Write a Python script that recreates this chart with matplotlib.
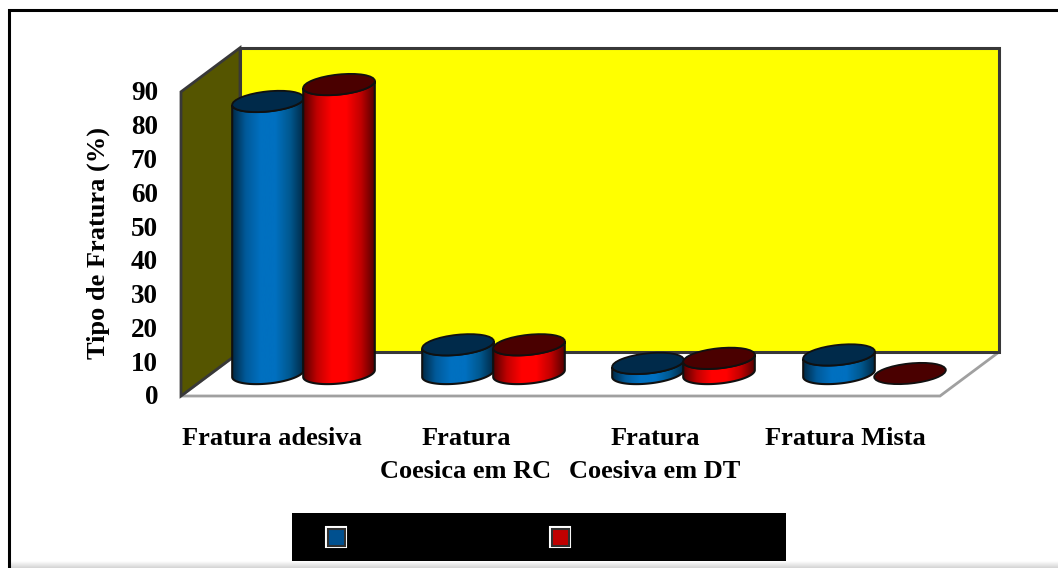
import numpy as np
import matplotlib
matplotlib.use('Agg')
import matplotlib.pyplot as plt
from matplotlib.colors import LinearSegmentedColormap
from matplotlib.patches import Ellipse, Polygon, Rectangle
from matplotlib.path import Path

# --- Data ---
categories = ['Fratura adesiva', 'Fratura\nCoesica em RC', 'Fratura\nCoesiva em DT', 'Fratura Mista']
blue_values = [80.5, 8.5, 3, 5.5]
red_values = [85.5, 8.5, 4.5, 0]
y_ticks = list(range(0, 100, 10))

# --- 3D box geometry (pixels) ---
X0, Y0 = 181, 396            # front left corner of the floor
DX, DY = 59, -44             # depth offset to the back wall
BOX_W = 759
PX_PER_UNIT = 3.38
BAR_BASE_Y = 373.5
GROUP_X = [303, 493, 683, 874]
RX, RY, TILT = 36, 10, np.radians(-6)

FONT = 'Liberation Serif'

fig = plt.figure(figsize=(10.58, 5.68), dpi=100)
ax = fig.add_axes([0, 0, 1, 1])
ax.set_xlim(0, 1058)
ax.set_ylim(568, 0)
ax.axis('off')


def val_y(v, base=Y0):
    return base - v * PX_PER_UNIT


def ellipse_pts(cx, cy, t):
    px = RX * np.cos(t)
    py = RY * np.sin(t)
    return (cx + px * np.cos(TILT) - py * np.sin(TILT),
            cy + px * np.sin(TILT) + py * np.cos(TILT))


def draw_cylinder(cx, value, cmap, top_color, z):
    top_y = val_y(value, BAR_BASE_Y)
    if value > 0:
        # side wall: left edge down, lower half of base, back up the right edge
        t = np.linspace(np.pi, 0, 60)
        bx, by = ellipse_pts(cx, BAR_BASE_Y, t)
        t2 = np.linspace(0, np.pi, 60)
        tx, ty = ellipse_pts(cx, top_y, t2)
        verts = np.column_stack([np.r_[bx, tx], np.r_[by, ty]])
        ax.add_patch(Polygon(verts, closed=True, fc='none', ec='#101010', lw=1.5, zorder=z + 0.2))
        grad = np.linspace(0, 1, 256).reshape(1, -1)
        im = ax.imshow(grad, cmap=cmap, extent=(cx - RX - 1, cx + RX + 1, 568, 0),
                       aspect='auto', zorder=z)
        im.set_clip_path(Path(verts), ax.transData)
    ax.add_patch(Ellipse((cx, top_y), 2 * RX, 2 * RY, angle=np.degrees(TILT),
                         fc=top_color, ec='#101010', lw=1.3, zorder=z + 0.3))


# --- Box walls ---
ax.add_patch(Polygon([(X0 + DX, Y0 + DY), (X0 + DX + BOX_W, Y0 + DY),
                      (X0 + BOX_W, Y0), (X0, Y0)],
                     fc='white', ec='#a0a0a0', lw=2, zorder=1))
top = 90 * PX_PER_UNIT
ax.add_patch(Rectangle((X0 + DX, Y0 + DY - top), BOX_W, top, fc='#ffff00', ec='#383838', lw=2.2, zorder=2))
ax.add_patch(Polygon([(X0, Y0), (X0, Y0 - top), (X0 + DX, Y0 + DY - top), (X0 + DX, Y0 + DY)],
                     fc='#555500', ec='#383838', lw=2, zorder=3))

# --- Cylinders ---
blue_cmap = LinearSegmentedColormap.from_list('b', ['#00253f', '#005a9a', '#0070c0', '#0070c0', '#00588f', '#00253f'])
red_cmap = LinearSegmentedColormap.from_list('r', ['#4a0000', '#c00000', '#ff0000', '#ff0000', '#c00000', '#4a0000'])
for i, gx in enumerate(GROUP_X):
    draw_cylinder(gx - 35, blue_values[i], blue_cmap, '#002a4a', 4 + i)
    draw_cylinder(gx + 36, red_values[i], red_cmap, '#4a0000', 4.5 + i)

# --- Axis text ---
text_kw = dict(family=FONT, fontweight='bold', color='black', zorder=20)
for v in y_ticks:
    ax.text(158, val_y(v) + 2, str(v), ha='right', va='center', fontsize=19.5, **text_kw)
ax.text(98, 243, 'Tipo de Fratura (%)', rotation=90, ha='center', va='center', fontsize=19, **text_kw)
label_x = [272, 466, 655, 845]
for lx, cat in zip(label_x, categories):
    ax.text(lx, 427, cat, ha='center', va='top', fontsize=19, linespacing=1.58, **text_kw)

# --- Legend bar ---
ax.add_patch(Rectangle((292, 513), 494, 48, fc='black', ec='none', zorder=10))
for kx, col in [(326, '#00508f'), (550, '#c00000')]:
    ax.add_patch(Rectangle((kx, 527), 20, 20, fc=col, ec='white', lw=1.5, zorder=11))
    ax.add_patch(Rectangle((kx + 1.5, 528.5), 17, 17, fc='none', ec='#303030', lw=1.5, zorder=12))

# --- Page edge: faded strip along the bottom, rule on top and left ---
shade = LinearSegmentedColormap.from_list('s', ['#ffffff', '#d4d4d4'])
ax.imshow(np.linspace(0, 1, 32).reshape(-1, 1), cmap=shade, extent=(10, 1058, 568, 561),
          aspect='auto', zorder=9)
ax.plot([8.5, 8.5, 1058], [568, 10, 10], color='black', lw=2.2, zorder=15, solid_joinstyle='miter')

ax.set_xlim(0, 1058)
ax.set_ylim(568, 0)

fig.savefig('out.png', dpi=100)
